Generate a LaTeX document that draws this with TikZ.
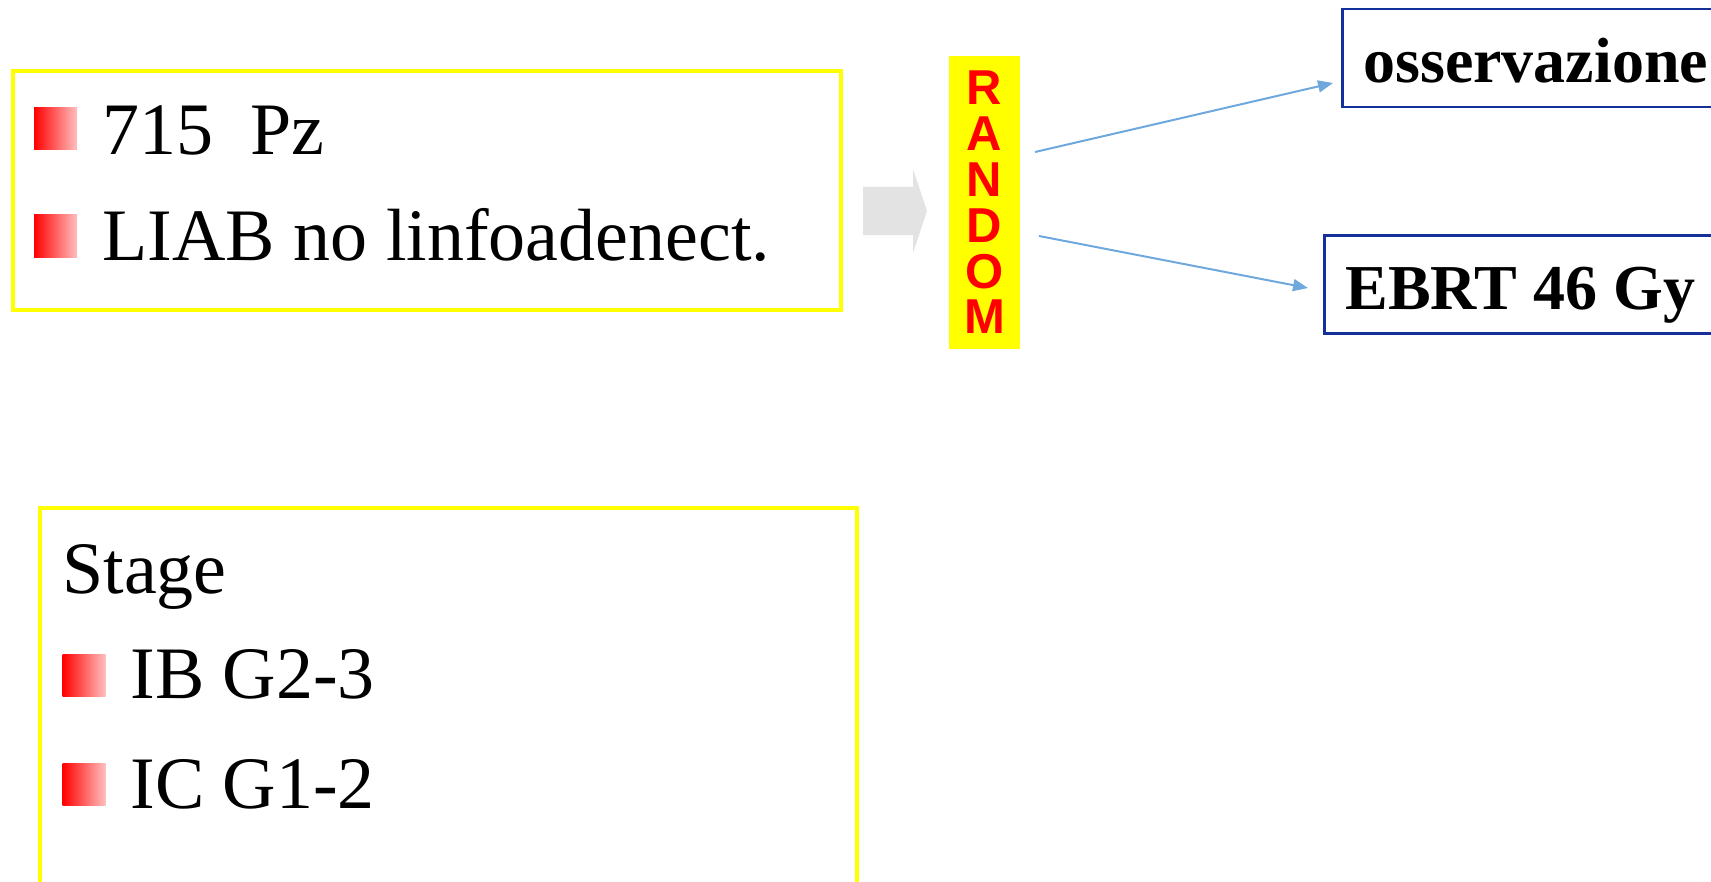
\documentclass[tikz,border=0pt]{standalone}
\usepackage{fontspec}
\setmainfont{Liberation Serif}
\setsansfont{Liberation Sans}
\usetikzlibrary{arrows.meta,positioning}
\definecolor{framey}{HTML}{FFFF00}
\definecolor{armblue}{HTML}{14309A}
\definecolor{linkblue}{HTML}{6FA8DC}
\definecolor{blockgray}{HTML}{E3E3E3}
\tikzset{
  frame/.style={draw=framey,line width=2pt,inner sep=0pt},
  bul/.style={minimum width=21.5pt,minimum height=21pt,inner sep=0pt,left color=red,right color=red!25},
  item/.style={anchor=base west,inner sep=0pt,font=\fontsize{37}{44}\selectfont},
  rnd/.style={fill=framey,minimum width=35.5pt,minimum height=146.5pt,inner sep=0pt,align=center,text=red,font=\sffamily\bfseries\fontsize{24.5}{22.9}\selectfont},
  arm/.style={draw=armblue,line width=1.3pt,anchor=west,minimum height=49pt,inner xsep=10.5pt,text height=25pt,text depth=0pt,font=\fontsize{32}{38}\selectfont\bfseries},
  flow/.style={-{Triangle[length=7.5pt,width=6pt]},draw=linkblue,line width=1pt},
}

\begin{document}
\begin{tikzpicture}[x=0.5pt,y=-0.5pt]
	\useasboundingbox (0,0) rectangle (1711,882);
	\clip (0,0) rectangle (1711,882);
	% patient group and stage
	\node[frame,minimum width=414pt,minimum height=119.5pt] (pzbox) at (427,190.5) {};
	\node[frame,minimum width=408.5pt,minimum height=201pt] (stagebox) at (448.5,709) {};
	\node[bul] (b1) at (55.5,129) {};
	\node[bul] (b2) at (55.5,236) {};
	\node[item] (pz) at (102,155) {715\ \ Pz};
	\node[item] (liab) at (102,260) {LIAB no linfoadenect.};
	\node[item] (stage) at (62,593) {Stage};
	\node[bul] (b3) at (84,675) {};
	\node[bul] (b4) at (84,784) {};
	\node[item] (ib) at (130,698) {IB G2-3};
	\node[item] (ic) at (130,808) {IC G1-2};
	% block arrow into the randomisation
	\fill[blockgray] (863,187) -- (913,187) -- (913,169) -- (927,211) -- (913,253) -- (913,235) -- (863,235) -- cycle;
	\node[rnd] (rnd) at (984.5,202.5) {R\\A\\N\\D\\O\\M};
	% the two arms
	\node[arm] (obs) at (1341,58) {osservazione};
	\node[arm] (ebrt) at (1323,284.5) {EBRT 46 Gy};
	\coordinate (r1) at (1035,152);
	\coordinate (r2) at (1039,236);
	\draw[flow] (r1) -- ([shift={(-8,25)}]obs.west);
	\draw[flow] (r2) -- ([shift={(-15,3.5)}]ebrt.west);
\end{tikzpicture}
\end{document}
